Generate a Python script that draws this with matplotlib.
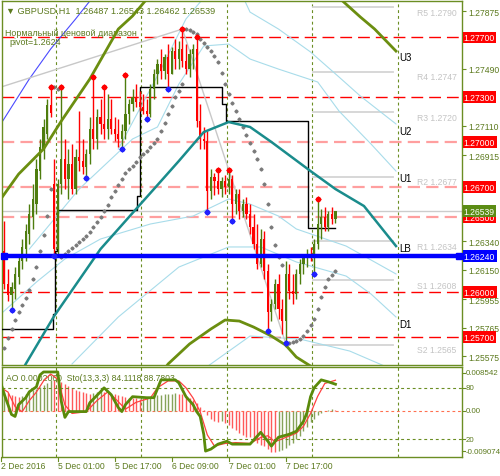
import numpy as np
import matplotlib.pyplot as plt
from matplotlib.transforms import blended_transform_factory

plt.rcParams['font.family'] = ['Liberation Sans', 'DejaVu Sans']

# GBPUSD H1, bar 0 = 2 Dec 2016 09:00, last bar = 8 Dec 06:00
opens = [1.26275, 1.26055, 1.25982, 1.26022, 1.26102, 1.26208, 1.26288, 1.26388, 1.26502, 1.26588,
         1.26808, 1.26955, 1.27055, 1.27248, 1.26722, 1.26288, 1.26722, 1.26888, 1.26755, 1.26855,
         1.26688, 1.26902, 1.26875, 1.26835, 1.26922, 1.27088, 1.27022, 1.27168, 1.27122, 1.27088,
         1.27155, 1.27088, 1.27055, 1.27022, 1.27075, 1.27188, 1.27255, 1.27302, 1.27268, 1.27235,
         1.27208, 1.27188, 1.27355, 1.27455, 1.27522, 1.27475, 1.27568, 1.27455, 1.27608, 1.27555,
         1.27622, 1.27542, 1.27488, 1.27588, 1.27622, 1.27142, 1.27022, 1.27008, 1.26675, 1.26768,
         1.26742, 1.26688, 1.26742, 1.26702, 1.26755, 1.26588, 1.26655, 1.26542, 1.26588, 1.26522,
         1.26435, 1.26322, 1.26188, 1.26355, 1.26142, 1.25868, 1.25922, 1.26055, 1.25888, 1.25808,
         1.26122, 1.26008, 1.25988, 1.26122, 1.26188, 1.26235, 1.26255, 1.26235, 1.26322, 1.26455,
         1.26502, 1.26435, 1.26522, 1.26487]
highs = [1.26475, 1.26155, 1.26068, 1.26168, 1.26255, 1.26355, 1.26455, 1.26588, 1.26722, 1.26888,
         1.27022, 1.27155, 1.27288, 1.27368, 1.26888, 1.26755, 1.27368, 1.27022, 1.26955, 1.26988,
         1.26955, 1.27208, 1.27022, 1.26955, 1.27168, 1.27435, 1.27222, 1.27288, 1.27368, 1.27322,
         1.27288, 1.27168, 1.27155, 1.27122, 1.27448, 1.27288, 1.27355, 1.27388, 1.27342, 1.27322,
         1.27288, 1.27388, 1.27488, 1.27555, 1.27622, 1.27588, 1.27655, 1.27635, 1.27688, 1.27675,
         1.27755, 1.27655, 1.27622, 1.27655, 1.27702, 1.27255, 1.27102, 1.27075, 1.26822, 1.26795,
         1.26815, 1.26768, 1.26782, 1.26815, 1.26782, 1.26688, 1.26688, 1.26622, 1.26635, 1.26588,
         1.26522, 1.26455, 1.26422, 1.26408, 1.26188, 1.25955, 1.26088, 1.26122, 1.25955, 1.26208,
         1.26188, 1.26122, 1.26155, 1.26222, 1.26255, 1.26288, 1.26302, 1.26355, 1.26622, 1.26555,
         1.26568, 1.26542, 1.26568, 1.26543]
lows = [1.26022, 1.25942, 1.25888, 1.25955, 1.26055, 1.26155, 1.26208, 1.26322, 1.26422, 1.26522,
        1.26755, 1.26888, 1.27022, 1.27168, 1.26242, 1.26255, 1.26655, 1.26688, 1.26622, 1.26655,
        1.26655, 1.26808, 1.26788, 1.26768, 1.26855, 1.26955, 1.26955, 1.27055, 1.27022, 1.27022,
        1.27055, 1.27008, 1.26968, 1.26955, 1.27022, 1.27122, 1.27208, 1.27235, 1.27208, 1.27188,
        1.27155, 1.27168, 1.27288, 1.27388, 1.27422, 1.27422, 1.27355, 1.27455, 1.27488, 1.27488,
        1.27502, 1.27455, 1.27435, 1.27488, 1.27102, 1.26955, 1.26955, 1.26535, 1.26622, 1.26648,
        1.26655, 1.26635, 1.26655, 1.26655, 1.26475, 1.26522, 1.26488, 1.26502, 1.26488, 1.26388,
        1.26288, 1.26155, 1.26168, 1.26088, 1.25742, 1.25808, 1.25888, 1.25822, 1.25722, 1.25662,
        1.25955, 1.25922, 1.25955, 1.26055, 1.26122, 1.26168, 1.26208, 1.26128, 1.26288, 1.26355,
        1.26408, 1.26408, 1.26455, 1.26462]
closes = [1.26055, 1.25982, 1.26035, 1.26122, 1.26208, 1.26302, 1.26408, 1.26522, 1.26622, 1.26822,
          1.26968, 1.27102, 1.27248, 1.27195, 1.26288, 1.26722, 1.26888, 1.26755, 1.26855, 1.26688,
          1.26902, 1.26875, 1.26835, 1.26922, 1.27088, 1.27022, 1.27168, 1.27122, 1.27088, 1.27155,
          1.27088, 1.27055, 1.27022, 1.27075, 1.27188, 1.27255, 1.27302, 1.27268, 1.27235, 1.27208,
          1.27188, 1.27355, 1.27455, 1.27522, 1.27475, 1.27568, 1.27455, 1.27608, 1.27555, 1.27622,
          1.27542, 1.27488, 1.27588, 1.27622, 1.27142, 1.27022, 1.27008, 1.26675, 1.26768, 1.26742,
          1.26688, 1.26742, 1.26702, 1.26755, 1.26588, 1.26655, 1.26542, 1.26588, 1.26522, 1.26435,
          1.26322, 1.26188, 1.26355, 1.26142, 1.25868, 1.25922, 1.26055, 1.25888, 1.25808, 1.26122,
          1.26008, 1.25988, 1.26122, 1.26188, 1.26235, 1.26255, 1.26235, 1.26322, 1.26455, 1.26502,
          1.26435, 1.26522, 1.26488, 1.26539]

# parabolic SAR
sar = [1.25628, 1.25695, 1.25755, 1.25815, 1.25868, 1.25915, 1.25962, 1.26015, 1.26088, 1.26168,
       1.26275, 1.26382, 1.26508, 1.26688, 1.27368, 1.27355, 1.26235, 1.26255, 1.26275, 1.26295,
       1.26315, 1.26335, 1.26355, 1.26375, 1.26402, 1.26435, 1.26468, 1.26502, 1.26542, 1.26582,
       1.26635, 1.26675, 1.26715, 1.26755, 1.26795, 1.26822, 1.26842, 1.26868, 1.26902, 1.26922,
       1.26942, 1.26968, 1.26995, 1.27022, 1.27075, 1.27128, 1.27188, 1.27242, 1.27302, 1.27342,
       1.27388, 1.27755, 1.27748, 1.27735, 1.27722, 1.27688, 1.27662, 1.27635, 1.27608, 1.27575,
       1.27535, 1.27462, 1.27388, 1.27322, 1.27262, 1.27208, 1.27155, 1.27102, 1.27048, 1.26995,
       1.26942, 1.26888, 1.26822, 1.26722, 1.26588, 1.26435, 1.26315, 1.26235, 1.26182, 1.25650,
       1.25662, 1.25668, 1.25675, 1.25688, 1.25708, 1.25742, 1.25782, 1.25822, 1.25888, 1.25968,
       1.26035, 1.26088, 1.26115, 1.26142]

fractal_up = [13, 16, 25, 28, 34, 50, 54, 60, 63, 88]
fractal_dn = [2, 14, 23, 33, 40, 46, 57, 64, 74, 79, 87]

# indicator lines (bar, price)
teal_bars = [3, 6, 14, 27, 37, 42, 49, 56, 63, 69, 75, 86, 93, 101, 110]
teal_vals = [1.25388, 1.25522, 1.25842, 1.26288, 1.26555, 1.26688, 1.26875, 1.27068, 1.27135,
             1.27102, 1.27002, 1.26808, 1.26688, 1.26575, 1.26308]
band_up_bars = [-1, 4, 11, 16, 24, 32, 36, 40, 42]
band_up_vals = [1.26622, 1.26788, 1.26955, 1.27142, 1.27422, 1.27755, 1.27842, 1.27955, 1.28022]
band_u3_bars = [92, 95, 100, 104, 110]
band_u3_vals = [1.28022, 1.27942, 1.27835, 1.27755, 1.27608]
band_dn_bars = [44, 46, 52, 58, 62, 66, 70, 75, 79, 82, 86, 89]
band_dn_vals = [1.25455, 1.25522, 1.25655, 1.25755, 1.25815, 1.25808, 1.25768, 1.25708, 1.25648,
                1.25568, 1.25508, 1.25442]
light1_bars = [32, 38, 44, 51, 55, 59, 66, 69, 77, 86, 94, 100, 110]
light1_vals = [1.26955, 1.27222, 1.27488, 1.27822, 1.27935, 1.28022, 1.28022, 1.27868, 1.27755,
               1.27602, 1.27435, 1.27308, 1.27122]
light2_bars = [7, 21, 36, 43, 49, 56, 63, 69, 77, 88, 94, 103, 110]
light2_vals = [1.26288, 1.26688, 1.27022, 1.27102, 1.27388, 1.27642, 1.27655, 1.27555, 1.27488,
               1.27402, 1.27208, 1.26988, 1.26808]
light3_bars = [-1, 9, 17, 27, 41, 53, 63, 69, 77, 82, 96, 110]
light3_vals = [1.25855, 1.26068, 1.26222, 1.26355, 1.26455, 1.26508, 1.26622, 1.26588, 1.26508,
               1.26422, 1.26308, 1.26122]
light4_bars = [19, 32, 49, 63, 72, 82, 96, 103, 110]
light4_vals = [1.25522, 1.25835, 1.26168, 1.26302, 1.26302, 1.26202, 1.26108, 1.25988, 1.25835]
light5_bars = [56, 69, 83, 97, 110]
light5_vals = [1.25488, 1.25708, 1.25688, 1.25608, 1.25475]
blue_bars = [-1, 7, 13, 20, 24, 26]
blue_vals = [1.27122, 1.27422, 1.27622, 1.27822, 1.27942, 1.28022]
zigzag_bars = [-1, 50, 79]
zigzag_vals = [1.27368, 1.27755, 1.25662]
range_bars = [-1, 13.7, 13.7, 14.2, 14.2, 14.8, 14.8, 37.2, 37.2, 38.1, 38.1, 61.1, 61.1, 62.2,
              62.2, 85.3, 85.3, 92.9]
range_vals = [1.25755, 1.25755, 1.25855, 1.25855, 1.26275, 1.26275, 1.26548, 1.26548, 1.26642,
              1.26642, 1.27368, 1.27368, 1.27255, 1.27255, 1.27142, 1.27142, 1.26428, 1.26428]

red_levels = [1.27700, 1.27300, 1.27000, 1.26700, 1.26500, 1.26000, 1.25700]
faint_levels = [1.27000, 1.26700, 1.26500]
pivot_level = 1.26240
pivot_names = ['R5', 'R4', 'R3', 'R2', 'R1', 'S1', 'S2']
pivot_vals = [1.2790, 1.2747, 1.2720, 1.2677, 1.2634, 1.2608, 1.2565]
band_names = ['U3', 'U2', 'U1', 'LB', 'D1']
band_label_vals = [1.27568, 1.27075, 1.26762, 1.26295, 1.25788]
price_ticks = [1.27875, 1.27490, 1.27110, 1.26915, 1.26340, 1.26150, 1.25955, 1.25765, 1.25575]

day_starts = [15, 39, 63, 87, 111]
time_bars = [0, 16, 32, 48, 64, 80]
time_labels = ['2 Dec 2016', '5 Dec 01:00', '5 Dec 17:00', '6 Dec 09:00', '7 Dec 01:00', '7 Dec 17:00']

# Awesome oscillator
ao = [0.0043, 0.0040, 0.0036, 0.0033, 0.0032, 0.0034, 0.0038, 0.0042, 0.0046, 0.0050,
      0.0054, 0.0058, 0.0063, 0.0070, 0.0069, 0.0067, 0.0064, 0.0060, 0.0056, 0.0052,
      0.0048, 0.0045, 0.0042, 0.0040, 0.0039, 0.0041, 0.0043, 0.0044, 0.0043, 0.0041,
      0.0039, 0.0037, 0.0035, 0.0033, 0.0031, 0.0030, 0.0029, 0.0028, 0.0027, 0.0028,
      0.0029, 0.0031, 0.0033, 0.0035, 0.0036, 0.0037, 0.0038, 0.0039, 0.0040, 0.0039,
      0.0037, 0.0033, 0.0029, 0.0024, 0.0017, 0.0009, 0.0001, -0.0010, -0.0018, -0.0024,
      -0.0026, -0.0024, -0.0027, -0.0032, -0.0038, -0.0044, -0.0050, -0.0055, -0.0058, -0.0060,
      -0.0066, -0.0072, -0.0076, -0.0080, -0.0086, -0.0092, -0.0093, -0.0091, -0.0088, -0.0084,
      -0.0078, -0.0072, -0.0064, -0.0056, -0.0046, -0.0036, -0.0026, -0.0018, -0.0010, -0.0005,
      -0.0001, 0.0002, 0.0003, 0.000206]
ao_max, ao_min = 0.008542, -0.009074

# Stochastic(13,3,3)
sto_bars = [-1, 0, 2, 3, 4, 6, 7, 9, 10, 11, 15, 16, 17, 18, 23, 24, 27, 28, 30, 32, 33, 34, 36,
            40, 42, 44, 48, 49, 51, 53, 54, 55, 56, 56.5, 58, 60, 62.5, 64, 69, 72, 74, 75,
            77, 80, 82, 84, 85, 86, 87, 89, 90, 91, 93]
sto_main = [85.7, 71.9, 48.8, 46.5, 60.3, 68.4, 75.3, 81.1, 95.0, 98.4, 98.4, 63.8, 45.4, 52.2,
            52.2, 62.6, 75.3, 79.9, 71.9, 56.9, 52.2, 60.3, 69.6, 68.4, 68.4, 89.2, 89.2, 85.7,
            69.6, 60.3, 52.2, 46.5, 25.7, 6.1, 8.4, 14.2, 17.6, 14.2, 14.2, 28.0, 17.6, 11.9,
            22.3, 25.7, 29.2, 40.7, 51.1, 69.6, 80.0, 89.2, 88.0, 86.9, 84.1]
sig_bars = [-1, 1, 3, 5, 7, 9, 11, 13, 15, 17, 19, 23, 26, 29, 31, 34, 37, 41, 43, 46, 49, 51,
            53, 55, 57, 59, 62, 65, 69, 72, 74, 76, 79, 82, 84, 86, 88, 90, 93]
sig_vals = [80, 75, 58, 52, 65, 75, 88, 96, 90, 60, 50, 52, 65, 75, 68, 55, 63, 68, 80, 88, 88,
            80, 68, 52, 25, 12, 15, 16, 15, 22, 24, 17, 22, 27, 35, 50, 70, 85, 88.78]

OLIVE = '#6b8e23'
TXT = '#5c7a1e'
BULL = '#4e7d0e'
BEAR = '#ff0000'
FS = 6.2

W, H = 500, 477


def box(x0, y0, x1, y1):
    return [x0 / W, 1 - y1 / H, (x1 - x0) / W, (y1 - y0) / H]


fig = plt.figure(figsize=(5.0, 4.77), dpi=100)
ax = fig.add_axes(box(2, 2, 462, 366))
sub = fig.add_axes(box(2, 368, 462, 458))
for a in (ax, sub):
    a.set_xlim(-0.67, 128.54)
    a.set_xticks([])
    for s in a.spines.values():
        s.set_color(OLIVE)
        s.set_linewidth(1)
ax.set_ylim(1.25515, 1.27942)

o, h, l, c = (np.array(v) for v in (opens, highs, lows, closes))
x = np.arange(len(c))

# day separators
for d in day_starts:
    for a in (ax, sub):
        a.axvline(d - 0.5, color=OLIVE, lw=0.8, ls=(0, (2.6, 2.6)), zorder=1)

# horizontal levels
for lv in red_levels:
    if lv in faint_levels:
        ax.axhline(lv, color='#ff6060', lw=1.6, alpha=0.6, ls=(0, (5.5, 2.8)), zorder=2)
    else:
        ax.axhline(lv, color=BEAR, lw=1, ls=(0, (8.5, 4.3)), zorder=2)
ax.axhline(c[-1], color='#cccccc', lw=1, zorder=1)

# pivot levels for the current day
for name, pv in zip(pivot_names, pivot_vals):
    ax.plot([86.7, 109.2], [pv, pv], color='#d4d4d4', lw=1.3, zorder=1)
    ax.text(127.0, pv - 0.00004, f'{name} {pv:.4f}', color='#c4c4c4', fontsize=FS,
            ha='right', va='top', zorder=2)

# indicator lines
for bb, vv in [(light1_bars, light1_vals), (light2_bars, light2_vals), (light3_bars, light3_vals),
               (light4_bars, light4_vals), (light5_bars, light5_vals)]:
    ax.plot(bb, vv, color='#a8dcea', lw=0.8, zorder=2)
ax.plot(blue_bars, blue_vals, color='#4a4aff', lw=0.8, zorder=2)
ax.plot(zigzag_bars, zigzag_vals, color='#c8c8c8', lw=1, zorder=2)
ax.plot(range_bars, range_vals, color='black', lw=1, zorder=3)
ax.plot(teal_bars, teal_vals, color='#1a8c8c', lw=1.8, zorder=6)
for bb, vv in [(band_up_bars, band_up_vals), (band_u3_bars, band_u3_vals), (band_dn_bars, band_dn_vals)]:
    ax.plot(bb, vv, color='#6b8e10', lw=2, zorder=6)

ax.axhline(pivot_level, color='#0000ff', lw=3.2, zorder=6)
ax.plot([-0.2], [pivot_level], 's', color='#0000ff', ms=5, zorder=7, clip_on=False)
ax.plot([127.8], [pivot_level], 's', color='#0000ff', ms=5, zorder=7, clip_on=False)

# candles
up = c >= o
col = np.where(up, BULL, BEAR)
ax.vlines(x, l, h, colors=col, lw=1, zorder=4)
ax.bar(x, np.maximum(np.abs(c - o), 0.00004), bottom=np.minimum(o, c), width=0.62,
       color=col, zorder=5)

ax.plot(x, sar, 'D', color='#7a7a7a', ms=1.6, zorder=5)
fu = np.array(fractal_up)
fd = np.array(fractal_dn)
ax.plot(fu, h[fu] + 0.00003, 'o', color=BEAR, ms=3, zorder=7)
ax.plot(fu, h[fu] + 0.00003, '+', color=BEAR, ms=5, mew=0.8, zorder=7)
ax.plot(fd, l[fd] - 0.00003, 'o', color='#2020ff', ms=3, zorder=7)
ax.plot(fd, l[fd] - 0.00003, '+', color='#2020ff', ms=5, mew=0.8, zorder=7)

for name, bv in zip(band_names, band_label_vals):
    ax.text(110.9, bv, name, fontsize=7, color='black', va='center', ha='left')

# right price axis
ax.yaxis.tick_right()
ax.set_yticks(price_ticks)
ax.set_yticklabels([f'{t:.5f}' for t in price_ticks])
ax.tick_params(axis='y', colors=OLIVE, labelcolor=TXT, labelsize=FS, length=3, width=0.8, pad=1.5)

tr = blended_transform_factory(ax.transAxes, ax.transData)
lab_box = dict(boxstyle='square,pad=0.15', ec='none')
for lv in red_levels:
    ax.text(1.004, lv, f'{lv:.5f}', transform=tr, color='white', fontsize=FS, va='center',
            ha='left', bbox={**lab_box, 'fc': '#ff0000'}, zorder=10)
ax.text(1.004, c[-1] + 0.00002, f'{c[-1]:.5f}', transform=tr, color='white', fontsize=FS,
        va='center', ha='left', bbox={**lab_box, 'fc': '#5b8c14'}, zorder=11)
ax.text(1.004, pivot_level, f'{pivot_level:.5f}', transform=tr, color='white', fontsize=FS,
        va='center', ha='left', bbox={**lab_box, 'fc': '#0000ff'}, zorder=11)

# header texts
ax.text(0.008, 0.988, f'\u25bc GBPUSD,H1  {o[-1]:.5f} {h[-1]:.5f} {l[-1]:.5f} {c[-1]:.5f}',
        transform=ax.transAxes, fontsize=6.6, color=TXT, va='top', ha='left')
ax.text(0.006, 0.926, 'Нормальный ценовой диапазон', transform=ax.transAxes, fontsize=6.4,
        color=TXT, va='top', ha='left')
ax.text(0.016, 0.900, f'pivot={pivot_level:.4f}', transform=ax.transAxes, fontsize=6.4,
        color=TXT, va='top', ha='left')

# sub window: AO + stochastic
sub.set_ylim(-0.01041, 0.00988)
sub.set_yticks([])
ao_arr = np.array(ao)
ao_col = ['#86a35a' if i == 0 or ao_arr[i] > ao_arr[i - 1] else '#ff5a5a' for i in range(len(ao_arr))]
sub.axhline(0, color='#ff7050', lw=0.8, ls=(0, (2.5, 2.5)), zorder=1)
sub.vlines(x, 0, ao_arr, colors=ao_col, lw=1, zorder=2)
sto = sub.twinx()
sto.set_ylim(-0.8, 104.2)
sto.set_yticks([])
for s in sto.spines.values():
    s.set_visible(False)
for lv in (80, 20):
    sto.axhline(lv, color=OLIVE, lw=0.8, ls=(0, (2.6, 2.6)), zorder=1)
sto.plot(sig_bars, sig_vals, color='#ff4040', lw=0.9, zorder=3)
sto.plot(sto_bars, sto_main, color='#5a8a0a', lw=2, zorder=4)
sub.text(0.008, 0.93, f'AO {ao[-1]:.7f}  Sto(13,3,3) 84.1118 88.7803', transform=sub.transAxes,
         fontsize=FS, color=TXT, va='top', ha='left', zorder=6)

trs = blended_transform_factory(sub.transAxes, sub.transData)
trt = blended_transform_factory(sto.transAxes, sto.transData)
for val, lab in [(ao_max, f'{ao_max:.6f}'), (0, '0.00'), (ao_min, f'{ao_min:.6f}')]:
    sub.text(1.008, val, lab, transform=trs, fontsize=5.7, color=TXT, va='center', ha='left')
    sub.plot([1.0, 1.006], [val, val], transform=trs, color=OLIVE, lw=0.8, clip_on=False)
for val in (80, 20):
    sto.text(1.008, val, str(val), transform=trt, fontsize=5.7, color=TXT, va='center', ha='left')
    sto.plot([1.0, 1.006], [val, val], transform=trt, color=OLIVE, lw=0.8, clip_on=False)

# time labels
trx = blended_transform_factory(sub.transData, sub.transAxes)
for b, lab in zip(time_bars, time_labels):
    sub.text(b - 1, -0.045, lab, transform=trx, fontsize=FS, color=TXT, va='top', ha='left')
    sub.plot([b - 1, b - 1], [0, -0.04], transform=trx, color=OLIVE, lw=0.8, clip_on=False)

fig.savefig('out.png', dpi=100, facecolor='white')
